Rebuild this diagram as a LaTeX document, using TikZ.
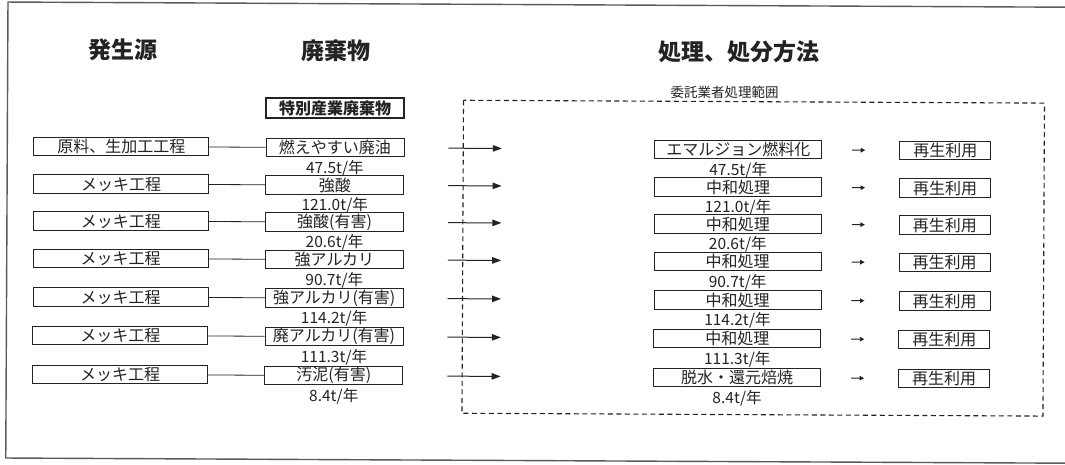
\documentclass[tikz,border=0pt]{standalone}
\usepackage{fontspec}
\setmainfont{Noto Sans CJK JP}
\usetikzlibrary{arrows.meta}
\definecolor{ink}{RGB}{35,35,35}
\definecolor{framec}{RGB}{90,90,90}
\begin{document}
\begin{tikzpicture}[
  box/.style={draw=ink, line width=0.9pt, inner sep=0pt, minimum height=18.5pt, text=ink, font=\fontsize{16}{16}\selectfont, anchor=center},
  srcbox/.style={box, minimum width=175pt},
  wastebox/.style={box, minimum width=138pt},
  procbox/.style={box, minimum width=167pt},
  reusebox/.style={box, minimum width=91pt},
  amount/.style={text=ink, inner sep=0pt, font=\fontsize{15.5}{15.5}\selectfont},
  title/.style={text=ink, inner sep=0pt, font=\fontsize{23}{23}\selectfont\bfseries},
  areatext/.style={text=ink, inner sep=0pt, font=\fontsize{13.5}{13.5}\selectfont},
  link/.style={draw=ink, line width=0.8pt},
  bigarrow/.style={draw=ink, line width=1pt, -{Triangle[length=9pt,width=6.5pt]}, shorten <=44pt, shorten >=152.5pt},
  smallarrow/.style={draw=ink, line width=0.9pt, -{Triangle[length=4.5pt,width=4.5pt]}, shorten <=30pt, shorten >=34pt},
  areabox/.style={draw=ink, line width=1.1pt, dash pattern=on 5pt off 3.5pt},
  framebox/.style={draw=framec, line width=1.4pt}
]
\useasboundingbox (0,0) rectangle (1065pt,-465pt);
\fill[white] (0,0) rectangle (1065pt,-465pt);
\begin{scope}[x=1pt,y=-1pt,rotate=-0.28]
  % outer frame (open to the right)
  \draw[framebox] (1090,2) -- (8,2) -- (8,458) -- (1090,458);
  % titles
  \node[title] (t1) at (123,49.7) {発生源};
  \node[title] (t2) at (336.5,49.5) {廃棄物};
  \node[title] (t3) at (739,48.5) {処理、処分方法};
  % contractor area
  \draw[areabox] (464,98) rectangle (1045,411);
  \node[areatext] (area) at (725,88.5) {委託業者処理範囲};
  % special waste header
  \node[wastebox, line width=1.8pt, minimum height=20pt, font=\fontsize{16}{16}\selectfont\bfseries] (special) at (335.7,106.4) {特別産業廃棄物};
  \foreach \i/\y/\src/\waste/\amt/\proc in {
    1/146/原料、生加工工程/燃えやすい廃油/47.5/エマルジョン燃料化,
    2/183.5/メッキ工程/強酸/121.0/中和処理,
    3/220.5/メッキ工程/強酸(有害)/20.6/中和処理,
    4/258/メッキ工程/強アルカリ/90.7/中和処理,
    5/296.5/メッキ工程/強アルカリ(有害)/114.2/中和処理,
    6/335/メッキ工程/廃アルカリ(有害)/111.3/中和処理,
    7/374/メッキ工程/汚泥(有害)/8.4/脱水・還元焙焼}{
    \node[srcbox] (s\i) at (122,\y) {\src};
    \node[wastebox] (w\i) at (335.7,\y) {\waste};
    \node[procbox] (p\i) at (739,\y) {\proc};
    \node[reusebox] (r\i) at (946,\y) {再生利用};
    \node[amount] (wa\i) at (335.7,\y+20.5) {\amt t/年};
    \node[amount] (pa\i) at (739,\y+20.5) {\amt t/年};
    \draw[link] (s\i) -- (w\i);
    \draw[bigarrow] (w\i) -- (p\i);
    \draw[smallarrow] (p\i) -- (r\i);
  }
\end{scope}
\end{tikzpicture}
\end{document}
